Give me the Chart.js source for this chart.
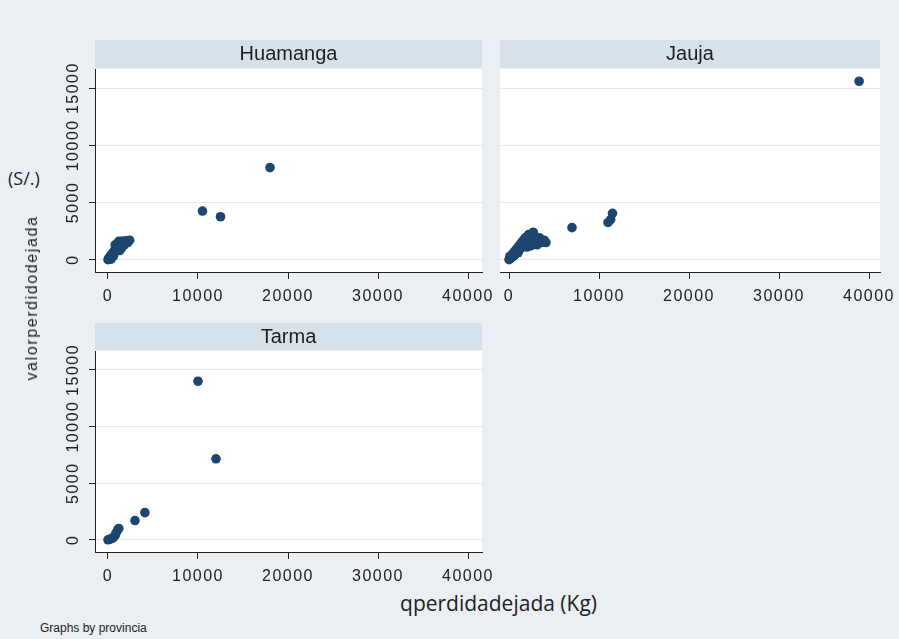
<!DOCTYPE html>
<html>
<head>
<meta charset="utf-8">
<script src="https://cdn.jsdelivr.net/npm/chart.js@4.4.0/dist/chart.umd.min.js"></script>
<style>
  html, body { margin: 0; padding: 0; }
  #wrap { position: relative; width: 899px; height: 639px; background: #e9eff3; overflow: hidden; }
  .panel { position: absolute; }
  .lbl { position: absolute; color: #222; white-space: nowrap; }
</style>
</head>
<body>
<div id="wrap">
  <canvas id="c1" class="panel" width="462" height="265" style="left:40px;top:40px"></canvas>
  <canvas id="c2" class="panel" width="409" height="265" style="left:490px;top:40px"></canvas>
  <canvas id="c3" class="panel" width="462" height="265" style="left:40px;top:323px"></canvas>

  <div class="lbl" style="left:8px;top:166px;font:18px 'Open Sans'">(S/.)</div>
  <div class="lbl" style="left:32px;top:298px;font:16px 'Liberation Sans';letter-spacing:1.6px;transform:translate(-50%,-50%) rotate(-90deg)">valorperdidodejada</div>
  <div class="lbl" style="right:302px;top:589px;font:21px 'Open Sans'">qperdidadejada (Kg)</div>
  <div class="lbl" style="left:40px;top:621px;font:12px 'Liberation Sans'">Graphs by provincia</div>
</div>

<script>
// axis ticks
const xTicks = [0, 10000, 20000, 30000, 40000];
const yTicks = [0, 5000, 10000, 15000];

const panelTitles = ['Huamanga', 'Jauja', 'Tarma'];

// qperdidadejada (Kg), valorperdidodejada (S/.)
const huamangaPoints = [
  [0, 0], [100, 80], [150, 200], [250, 150], [300, 350], [350, 50], [400, 300], [450, 500],
  [550, 450], [600, 650], [600, 300], [700, 600], [750, 850], [800, 1300], [850, 750], [900, 1000],
  [1000, 900], [1000, 1200], [1100, 1100], [1100, 1400], [1200, 1300], [1200, 1600], [1300, 1500],
  [1300, 800], [1400, 1200], [1500, 1600], [1500, 1000], [1600, 1400], [1700, 1600], [1800, 1300],
  [1900, 1550], [2000, 1650], [2200, 1500], [2400, 1700],
  [10500, 4250], [12500, 3750], [18000, 8050]
];

const jaujaPoints = [
  [0, 0], [150, 100], [100, 300], [300, 200], [400, 500], [500, 300], [600, 700], [600, 400],
  [700, 500], [800, 900], [900, 600], [1000, 1100], [1000, 600], [1100, 800], [1200, 1300],
  [1300, 1000], [1400, 1500], [1500, 1100], [1500, 1500], [1600, 1700], [1700, 1300], [1800, 1900],
  [1900, 1400], [2000, 2000], [2000, 1100], [2100, 1700], [2200, 2200], [2400, 1200], [2500, 2100],
  [2700, 2400], [2800, 2000], [3000, 1800], [3100, 1300], [3200, 1600], [3400, 1900], [3600, 1500],
  [3900, 1700], [4100, 1500],
  [7000, 2800], [11000, 3250], [11300, 3500], [11500, 4050], [38900, 15600]
];

const tarmaPoints = [
  [0, 0], [200, 50], [400, 100], [600, 200], [800, 400], [900, 600], [1100, 900], [1200, 1000],
  [3000, 1700], [4100, 2400], [10000, 14000], [12000, 7150]
];

var markerColor = '#1b466f';
var stripColor = '#d6e1e9';
var gridColor = '#e3e8eb';
var axisColor = '#222222';

// strip + title above the plot region, white plot region, rotated y labels
var panelPlugin = {
  id: 'panelStrip',
  beforeDraw: function(chart, args, opts) {
    var a = chart.chartArea;
    var ctx = chart.ctx;
    ctx.save();
    ctx.fillStyle = '#ffffff';
    ctx.fillRect(a.left, a.top, a.right - a.left, a.bottom - a.top);
    ctx.fillStyle = stripColor;
    ctx.fillRect(a.left, a.top - opts.stripH, a.right - a.left, opts.stripH - 1);
    ctx.fillStyle = '#1e1e1e';
    ctx.font = '20px "Liberation Sans"';
    ctx.textAlign = 'center';
    ctx.textBaseline = 'middle';
    ctx.fillText(opts.title, (a.left + a.right) / 2, a.top - opts.stripH / 2);
    ctx.restore();
    ctx.letterSpacing = '1.5px';
  },
  afterDraw: function(chart, args, opts) {
    var ctx = chart.ctx;
    if (opts.yLabels) {
      var ys = chart.scales.y;
      var a = chart.chartArea;
      ctx.save();
      ctx.fillStyle = axisColor;
      ctx.font = '16px "Liberation Sans"';
      ctx.textAlign = 'center';
      ctx.textBaseline = 'middle';
      yTicks.forEach(function(v) {
        var py = ys.getPixelForValue(v);
        ctx.save();
        ctx.translate(a.left - 21, py);
        ctx.rotate(-Math.PI / 2);
        ctx.fillText(String(v), 0, 0);
        ctx.restore();
      });
      ctx.restore();
    }
    ctx.letterSpacing = '0px';
  }
};

function makePanel(id, title, points, p) {
  return new Chart(document.getElementById(id), {
    type: 'scatter',
    data: {
      datasets: [{
        data: points.map(function(d) { return {x: d[0], y: d[1]}; }),
        backgroundColor: markerColor,
        borderColor: markerColor,
        borderWidth: 0,
        pointRadius: 4.8,
        pointHoverRadius: 4.8
      }]
    },
    options: {
      responsive: false,
      animation: false,
      devicePixelRatio: 1,
      layout: { padding: { left: 0, right: p.padRight, top: p.stripH, bottom: 0 } },
      plugins: {
        legend: { display: false },
        tooltip: { enabled: false },
        title: { display: false },
        panelStrip: { yLabels: p.yAxis, title: title, stripH: p.stripH }
      },
      scales: {
        x: {
          type: 'linear',
          min: p.xMin,
          max: p.xMax,
          afterBuildTicks: function(s) { s.ticks = xTicks.map(function(v) { return {value: v}; }); },
          afterFit: function(s) { s.height = p.xAxisHeight; s.paddingLeft = 0; s.paddingRight = 0; },
          grid: { display: true, drawOnChartArea: false, drawTicks: true, tickLength: 7, tickColor: axisColor },
          border: { display: true, color: axisColor, width: 1 },
          ticks: {
            color: axisColor,
            font: { family: 'Liberation Sans', size: 16 },
            padding: 8,
            maxRotation: 0,
            autoSkip: false,
            callback: function(v) { return String(v); }
          }
        },
        y: {
          type: 'linear',
          min: -1080,
          max: 16670,
          afterBuildTicks: function(s) { s.ticks = yTicks.map(function(v) { return {value: v}; }); },
          afterFit: function(s) { s.width = p.yWidth; s.paddingTop = 0; s.paddingBottom = 0; },
          grid: { display: true, color: gridColor, lineWidth: 1, drawTicks: p.yAxis, tickLength: 6, tickColor: axisColor },
          border: { display: p.yAxis, color: axisColor, width: 1 },
          ticks: { display: false }
        }
      }
    },
    plugins: [panelPlugin]
  });
}

makePanel('c1', panelTitles[0], huamangaPoints,
  { padRight: 20, stripH: 29, xAxisHeight: 33, yWidth: 55, yAxis: true, xMin: -1444, xMax: 41555 });
makePanel('c2', panelTitles[1], jaujaPoints,
  { padRight: 19, stripH: 29, xAxisHeight: 33, yWidth: 10, yAxis: false, xMin: -1000, xMax: 41222 });
makePanel('c3', panelTitles[2], tarmaPoints,
  { padRight: 20, stripH: 28, xAxisHeight: 36, yWidth: 55, yAxis: true, xMin: -1444, xMax: 41555 });
</script>
</body>
</html>
